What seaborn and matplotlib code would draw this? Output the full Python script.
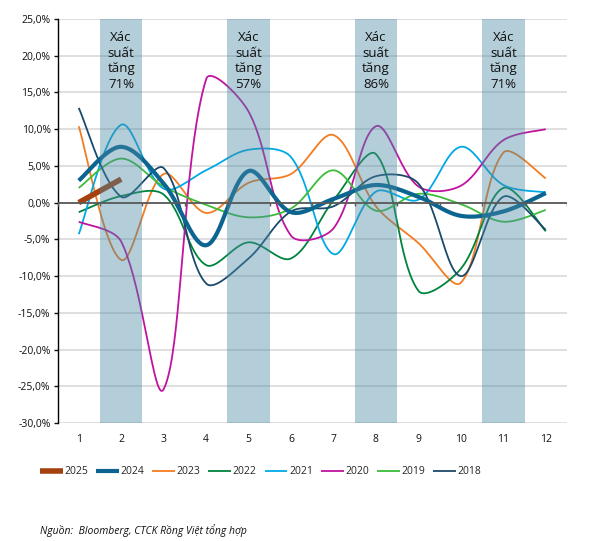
import numpy as np
import pandas as pd
import matplotlib
matplotlib.use("Agg")
import matplotlib.pyplot as plt
import seaborn as sns

months = list(range(1, 13))
y2025 = [0.0, 3.2]
y2024 = [3.0, 7.6, 2.6, -5.8, 4.3, -1.3, 0.5, 2.4, 0.8, -1.8, -1.2, 1.3]
y2023 = [10.4, -7.8, 3.9, -1.4, 2.7, 3.9, 9.2, -0.5, -5.5, -10.9, 6.8, 3.3]
y2022 = [-1.3, 0.9, 1.1, -8.5, -5.4, -7.6, 0.3, 6.6, -12.0, -9.0, 2.0, -3.9]
y2021 = [-4.3, 10.6, 1.9, 4.4, 7.2, 6.2, -7.0, 1.5, 0.4, 7.6, 2.4, 1.4]
y2020 = [-2.6, -5.3, -25.4, 16.8, 12.4, -4.5, -3.5, 10.4, 2.2, 2.3, 8.5, 10.0]
y2019 = [2.0, 6.0, 2.2, -0.3, -2.0, -0.8, 4.4, -1.1, 1.2, -0.2, -2.6, -1.0]
y2018 = [12.9, 0.8, 4.7, -11.0, -7.6, -1.2, -0.5, 3.6, 2.6, -10.0, 0.8, -3.7]

series_names = ["2025", "2024", "2023", "2022", "2021", "2020", "2019", "2018"]
series_vals = [y2025, y2024, y2023, y2022, y2021, y2020, y2019, y2018]
colors = ["#a5400f", "#0b6590", "#f47b20", "#00843d", "#00a9e6",
          "#c0139f", "#3dbb3a", "#1b4a6b"]
widths = [4.0, 3.0, 1.3, 1.3, 1.3, 1.3, 1.3, 1.3]

band_months = [2, 5, 8, 11]
band_labels = ["Xác\nsuất\ntăng\n71%", "Xác\nsuất\ntăng\n57%",
               "Xác\nsuất\ntăng\n86%", "Xác\nsuất\ntăng\n71%"]

y_ticks = list(range(-30, 30, 5))

# approximate screen scale (pixels per x unit / per 1 %) for the smoothing
SX, SY = 42.5, 7.34


def smooth(xv, yv, n=40):
    """Excel-style smoothed line: Bezier through the points, arm lengths
    proportional to neighbouring segment lengths (limits overshoot)."""
    x = np.asarray(xv, float) * SX
    y = np.asarray(yv, float) * SY
    P = np.column_stack([x, y])
    t = np.linspace(0, 1, n)[:, None]
    if len(P) < 3:
        seg = P[0] + (P[-1] - P[0]) * t
        return seg[:, 0] / SX, seg[:, 1] / SY
    out = []
    m = len(P)
    for i in range(m - 1):
        p1, p2 = P[i], P[i + 1]
        p0 = P[i - 1] if i > 0 else None
        p3 = P[i + 2] if i + 2 < m else None
        d12 = np.linalg.norm(p2 - p1)
        if p0 is None:
            c1 = p1 + (p2 - p1) / 6
        else:
            d01 = np.linalg.norm(p1 - p0)
            c1 = p1 + (p2 - p0) / 3 * d12 / (d01 + d12)
        if p3 is None:
            c2 = p2 - (p2 - p1) / 6
        else:
            d23 = np.linalg.norm(p3 - p2)
            c2 = p2 - (p3 - p1) / 3 * d12 / (d12 + d23)
        b = (1 - t) ** 3 * p1 + 3 * (1 - t) ** 2 * t * c1 + 3 * (1 - t) * t ** 2 * c2 + t ** 3 * p2
        out.append(b if i == 0 else b[1:])
    b = np.vstack(out)
    return b[:, 0] / SX, b[:, 1] / SY


sns.set_theme(style="white")
plt.rcParams["font.family"] = ["Open Sans", "Noto Sans", "DejaVu Sans"]

fig = plt.figure(figsize=(5.9, 5.41), dpi=100)
ax = fig.add_axes([57.5 / 590, 1 - 423 / 541, (567 - 57.5) / 590, (423 - 19) / 541])

for yv in y_ticks:
    ax.axhline(yv, color="#d9d9d9", lw=1.2, zorder=0)

for name, vals, c, w in zip(series_names, series_vals, colors, widths):
    xs, ys = smooth(months[:len(vals)], vals)
    sns.lineplot(x=xs, y=ys, ax=ax, color=c, lw=w, label=name, sort=False,
                 estimator=None, zorder=3 if name in ("2025", "2024") else 2,
                 solid_capstyle="butt")

for m, lab in zip(band_months, band_labels):
    ax.axvspan(m - 0.5, m + 0.5, color="#4a8aa5", alpha=0.42, lw=0, zorder=4)
    ax.text(m, 23.4, lab, ha="center", va="top", fontsize=9.5, linespacing=1.28,
            color="#111111", zorder=6)

ax.axhline(0, color="#5a5a5a", lw=1.3, zorder=5)
ax.vlines(np.arange(0.5, 13, 1), -0.45, 0, color="#5a5a5a", lw=1.0, zorder=5)

ax.set_xlim(0.5, 12.5)
ax.set_ylim(-30, 25)
ax.set_xticks(months)
ax.set_xticklabels([str(m) for m in months])
ax.set_yticks(y_ticks)
ax.set_yticklabels([f"{v:.1f}%".replace(".", ",") for v in y_ticks])
ax.tick_params(axis="x", length=0, pad=8, labelsize=7.5, colors="#111111")
ax.tick_params(axis="y", length=3, width=1, direction="out", pad=2,
               labelsize=7.5, colors="#111111", left=True)
for s in ["top", "right", "bottom"]:
    ax.spines[s].set_visible(False)
ax.spines["left"].set_color("#000000")
ax.spines["left"].set_linewidth(1.0)
ax.set_xlabel("")
ax.set_ylabel("")

handles, labels = ax.get_legend_handles_labels()
ax.get_legend().remove()
fig.legend(handles, labels, loc="center left", bbox_to_anchor=(40 / 590, 1 - 472 / 541),
           ncol=8, frameon=False, fontsize=7.5, handlelength=2.2, handletextpad=0.15,
           columnspacing=0.75, borderaxespad=0, borderpad=0)

fig.text(40 / 590, 1 - 531 / 541, "Nguồn:  Bloomberg, CTCK Rồng Việt tổng hợp",
         fontsize=7.5, style="italic", ha="left", va="center", color="#111111")

fig.savefig("out.png", dpi=100)
